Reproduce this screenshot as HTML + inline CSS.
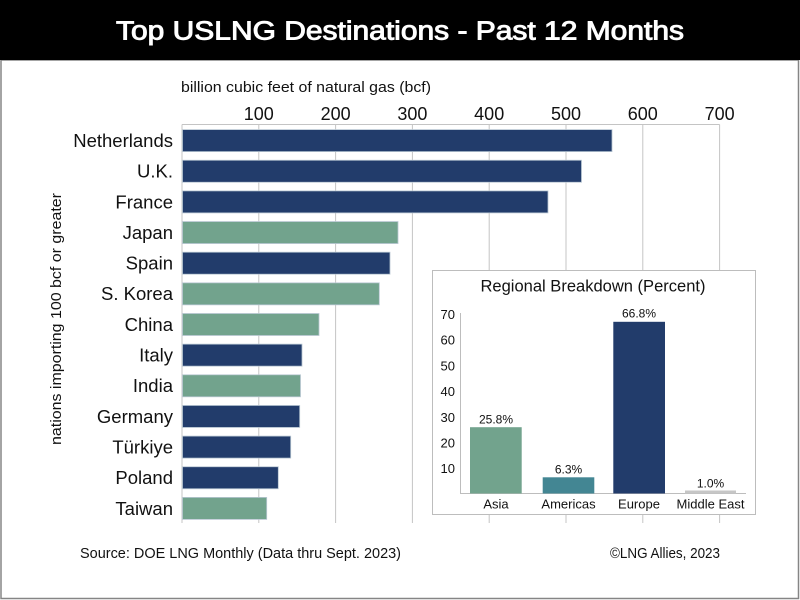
<!DOCTYPE html>
<html>
<head>
<meta charset="utf-8">
<style>
  html, body { margin: 0; padding: 0; background: #ffffff; }
  svg { display: block; }
  text { font-family: "Liberation Sans", "DejaVu Sans", sans-serif; }
</style>
</head>
<body>
<svg width="800" height="600" viewBox="0 0 800 600" xmlns="http://www.w3.org/2000/svg">
  <!-- background & frame -->
  <rect x="0" y="0" width="800" height="600" fill="#ffffff"/>
  <rect x="1" y="60" width="797.5" height="538.5" fill="#ffffff" stroke="#858585" stroke-width="1.5"/>
  <rect x="0" y="0" width="800" height="60" fill="#000000"/>
  <text x="116" y="39.5" font-size="25.5" fill="#ffffff" stroke="#ffffff" stroke-width="0.9" textLength="568" lengthAdjust="spacingAndGlyphs">Top USLNG Destinations - Past 12 Months</text>

  <!-- axis title -->
  <text x="181" y="92" font-size="15" fill="#111" textLength="250" lengthAdjust="spacingAndGlyphs">billion cubic feet of natural gas (bcf)</text>

  <!-- gridlines -->
  <g stroke="#c4c4c4" stroke-width="1">
    <line x1="182" y1="124.5" x2="719.6" y2="124.5"/>
    <line x1="258.8" y1="124.5" x2="258.8" y2="523"/>
    <line x1="335.6" y1="124.5" x2="335.6" y2="523"/>
    <line x1="412.4" y1="124.5" x2="412.4" y2="523"/>
    <line x1="489.2" y1="124.5" x2="489.2" y2="523"/>
    <line x1="566" y1="124.5" x2="566" y2="523"/>
    <line x1="642.8" y1="124.5" x2="642.8" y2="523"/>
    <line x1="719.6" y1="124.5" x2="719.6" y2="523"/>
    <line x1="182" y1="124.5" x2="182" y2="523"/>
  </g>

  <!-- tick labels -->
  <g font-size="18" fill="#111" text-anchor="middle">
    <text x="258.8" y="120">100</text>
    <text x="335.6" y="120">200</text>
    <text x="412.4" y="120">300</text>
    <text x="489.2" y="120">400</text>
    <text x="566" y="120">500</text>
    <text x="642.8" y="120">600</text>
    <text x="719.6" y="120">700</text>
  </g>

  <!-- bars -->
  <g stroke="#b9c7d3" stroke-width="0.8">
    <rect x="182.5" y="129.6" width="429.5" height="22" fill="#223c6b"/>
    <rect x="182.5" y="160.25" width="399" height="22" fill="#223c6b"/>
    <rect x="182.5" y="190.9" width="365.5" height="22" fill="#223c6b"/>
    <rect x="182.5" y="221.55" width="215.5" height="22" fill="#72a38d"/>
    <rect x="182.5" y="252.2" width="207.5" height="22" fill="#223c6b"/>
    <rect x="182.5" y="282.85" width="196.8" height="22" fill="#72a38d"/>
    <rect x="182.5" y="313.5" width="136.5" height="22" fill="#72a38d"/>
    <rect x="182.5" y="344.15" width="119.5" height="22" fill="#223c6b"/>
    <rect x="182.5" y="374.8" width="118" height="22" fill="#72a38d"/>
    <rect x="182.5" y="405.45" width="117.2" height="22" fill="#223c6b"/>
    <rect x="182.5" y="436.1" width="108.2" height="22" fill="#223c6b"/>
    <rect x="182.5" y="466.75" width="95.8" height="22" fill="#223c6b"/>
    <rect x="182.5" y="497.4" width="84.2" height="22" fill="#72a38d"/>
  </g>

  <!-- country labels -->
  <g font-size="18.5" fill="#111" text-anchor="end">
    <text x="173" y="147">Netherlands</text>
    <text x="173" y="177.6">U.K.</text>
    <text x="173" y="208.3">France</text>
    <text x="173" y="238.9">Japan</text>
    <text x="173" y="269.6">Spain</text>
    <text x="173" y="300.2">S. Korea</text>
    <text x="173" y="330.9">China</text>
    <text x="173" y="361.5">Italy</text>
    <text x="173" y="392.2">India</text>
    <text x="173" y="422.8">Germany</text>
    <text x="173" y="453.5">Türkiye</text>
    <text x="173" y="484.1">Poland</text>
    <text x="173" y="514.8">Taiwan</text>
  </g>

  <!-- y-axis title -->
  <text transform="translate(61,319) rotate(-90)" x="0" y="0" font-size="15" fill="#111" text-anchor="middle" textLength="252" lengthAdjust="spacingAndGlyphs">nations importing 100 bcf or greater</text>

  <!-- inset -->
  <rect x="432.5" y="270.5" width="323" height="244" fill="#ffffff" stroke="#bdbdbd" stroke-width="1"/>
  <text x="593" y="291.5" font-size="17" fill="#111" text-anchor="middle" textLength="225" lengthAdjust="spacingAndGlyphs">Regional Breakdown (Percent)</text>
  <line x1="460.5" y1="313" x2="460.5" y2="493.5" stroke="#bdbdbd" stroke-width="1"/>
  <line x1="460" y1="493.5" x2="746" y2="493.5" stroke="#bdbdbd" stroke-width="1"/>
  <g font-size="13" fill="#111" text-anchor="end">
    <text x="455" y="319">70</text>
    <text x="455" y="344.7">60</text>
    <text x="455" y="370.4">50</text>
    <text x="455" y="396.1">40</text>
    <text x="455" y="421.8">30</text>
    <text x="455" y="447.5">20</text>
    <text x="455" y="473.2">10</text>
  </g>
  <rect x="470" y="427.2" width="51.7" height="66.3" fill="#72a38d"/>
  <rect x="542.7" y="477.3" width="51.6" height="16.2" fill="#438693"/>
  <rect x="613.3" y="321.8" width="51.7" height="171.7" fill="#223c6b"/>
  <rect x="685" y="490.5" width="51" height="3" fill="#c6c6c6"/>
  <g font-size="12" fill="#111" text-anchor="middle">
    <text x="496" y="423.3">25.8%</text>
    <text x="568.5" y="473.3">6.3%</text>
    <text x="639" y="317.3">66.8%</text>
    <text x="710.5" y="487.3">1.0%</text>
  </g>
  <g font-size="13" fill="#111" text-anchor="middle">
    <text x="496" y="508.5">Asia</text>
    <text x="568.5" y="508.5">Americas</text>
    <text x="639" y="508.5">Europe</text>
    <text x="710.5" y="508.5">Middle East</text>
  </g>

  <!-- footer -->
  <text x="80" y="558" font-size="15" fill="#111" textLength="321" lengthAdjust="spacingAndGlyphs">Source: DOE LNG Monthly (Data thru Sept. 2023)</text>
  <text x="610" y="558" font-size="15" fill="#111" textLength="110" lengthAdjust="spacingAndGlyphs">©LNG Allies, 2023</text>
</svg>
</body>
</html>
